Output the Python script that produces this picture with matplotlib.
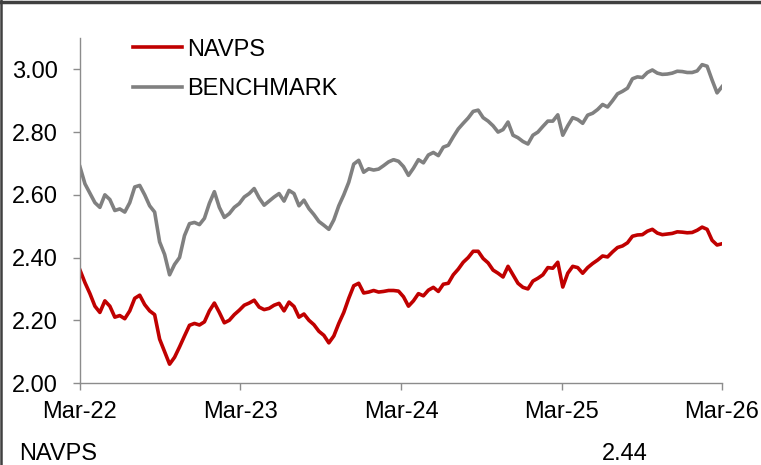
import matplotlib
matplotlib.use('Agg')
import matplotlib.pyplot as plt
import matplotlib.dates as mdates
import pandas as pd
from matplotlib.lines import Line2D

START_DATE = '2022-03-01'
END_DATE = '2026-03-01'

NAVPS = [
    2.360, 2.320, 2.285, 2.245, 2.225, 2.262, 2.245, 2.210, 2.215, 2.205,
    2.230, 2.270, 2.280, 2.250, 2.230, 2.218, 2.140, 2.100, 2.060, 2.082,
    2.115, 2.150, 2.184, 2.190, 2.185, 2.195, 2.230, 2.255, 2.225, 2.192,
    2.200, 2.218, 2.232, 2.248, 2.255, 2.264, 2.242, 2.234, 2.238, 2.248,
    2.254, 2.230, 2.258, 2.244, 2.210, 2.220, 2.200, 2.186, 2.165, 2.152,
    2.128, 2.150, 2.190, 2.225, 2.270, 2.310, 2.318, 2.287, 2.290, 2.295,
    2.290, 2.292, 2.295, 2.295, 2.293, 2.275, 2.245, 2.262, 2.285, 2.278,
    2.296, 2.305, 2.292, 2.315, 2.318, 2.345, 2.363, 2.385, 2.400, 2.420,
    2.420, 2.397, 2.383, 2.360, 2.350, 2.338, 2.372, 2.345, 2.318, 2.305,
    2.300, 2.325, 2.334, 2.345, 2.368, 2.366, 2.385, 2.306, 2.350, 2.372,
    2.368, 2.350, 2.368, 2.381, 2.392, 2.405, 2.402, 2.418, 2.432, 2.437,
    2.447, 2.468, 2.472, 2.473, 2.484, 2.490, 2.478, 2.473, 2.475, 2.477,
    2.482, 2.481, 2.479, 2.480, 2.487, 2.497, 2.490, 2.455, 2.440, 2.444,
]

BENCHMARK = [
    2.689, 2.635, 2.605, 2.575, 2.560, 2.600, 2.585, 2.550, 2.555, 2.545,
    2.575, 2.625, 2.630, 2.600, 2.565, 2.545, 2.450, 2.410, 2.345, 2.378,
    2.400, 2.470, 2.508, 2.512, 2.505, 2.525, 2.573, 2.610, 2.560, 2.528,
    2.540, 2.560, 2.572, 2.593, 2.604, 2.620, 2.590, 2.567, 2.580, 2.593,
    2.604, 2.580, 2.614, 2.604, 2.565, 2.583, 2.556, 2.537, 2.515, 2.503,
    2.490, 2.520, 2.565, 2.600, 2.640, 2.698, 2.710, 2.672, 2.683, 2.679,
    2.682, 2.693, 2.705, 2.712, 2.707, 2.690, 2.662, 2.685, 2.712, 2.702,
    2.727, 2.735, 2.725, 2.752, 2.758, 2.785, 2.810, 2.828, 2.845, 2.866,
    2.870, 2.846, 2.835, 2.820, 2.800, 2.808, 2.832, 2.790, 2.782, 2.770,
    2.762, 2.790, 2.800, 2.818, 2.835, 2.835, 2.855, 2.790, 2.820, 2.846,
    2.840, 2.828, 2.854, 2.860, 2.872, 2.888, 2.880, 2.900, 2.922, 2.930,
    2.940, 2.970, 2.976, 2.974, 2.990, 2.998, 2.988, 2.984, 2.985, 2.988,
    2.994, 2.993, 2.990, 2.990, 2.995, 3.015, 3.010, 2.966, 2.925, 2.945,
]

Y_TICKS = [2.00, 2.20, 2.40, 2.60, 2.80, 3.00]
X_TICKS = ['2022-03-01', '2023-03-01', '2024-03-01', '2025-03-01', '2026-03-01']
LAST_LABEL = 'NAVPS'
LAST_VALUE = 2.44

RED = '#C00000'
GREY = '#808080'
AXIS_GREY = '#8C8C8C'
FONT = 'Liberation Sans'
FONT_SIZE = 17


def main():
    plt.rcParams['font.family'] = [FONT, 'DejaVu Sans']
    dates = pd.date_range(START_DATE, END_DATE, periods=len(NAVPS))

    fig = plt.figure(figsize=(7.61, 4.65), dpi=100)
    ax = fig.add_axes([0.1051, 0.1763, 0.8437, 0.742])

    ax.plot(dates, NAVPS, color=RED, lw=2.6, solid_joinstyle='round')
    ax.plot(dates, BENCHMARK, color=GREY, lw=2.6, solid_joinstyle='round')

    ax.set_ylim(2.0, 3.1)
    ax.set_xlim(pd.Timestamp(START_DATE), pd.Timestamp(END_DATE))
    ax.set_yticks(Y_TICKS)
    ax.set_yticklabels([f'{v:.2f}' for v in Y_TICKS])
    ax.set_xticks(pd.to_datetime(X_TICKS))
    ax.xaxis.set_major_formatter(mdates.DateFormatter('%b-%y'))

    for side in ['top', 'right']:
        ax.spines[side].set_visible(False)
    for side in ['left', 'bottom']:
        ax.spines[side].set_color(AXIS_GREY)
        ax.spines[side].set_linewidth(1.0)
    ax.tick_params(axis='both', direction='out', length=5, width=1.0,
                   color=AXIS_GREY, labelsize=FONT_SIZE, labelcolor='black')
    ax.tick_params(axis='x', pad=8)
    ax.tick_params(axis='y', pad=11)

    handles = [Line2D([], [], color=RED, lw=2.6), Line2D([], [], color=GREY, lw=2.6)]
    ax.legend(handles, ['NAVPS', 'BENCHMARK'], loc='upper left',
              bbox_to_anchor=(0.05, 1.06), frameon=False, fontsize=FONT_SIZE,
              handlelength=2.07, handletextpad=0.21, labelspacing=0.75)

    fig.text(0.025, 0.0, LAST_LABEL, fontsize=FONT_SIZE, ha='left', va='bottom')
    fig.text(0.791, 0.0, f'{LAST_VALUE:.2f}', fontsize=FONT_SIZE, ha='left', va='bottom')

    # dark frame along top and left edge
    fig.add_artist(Line2D([0, 1], [0.9965, 0.9965], color='#404040', lw=2.5,
                          transform=fig.transFigure))
    fig.add_artist(Line2D([0.0015, 0.0015], [0, 1], color='#404040', lw=1.8,
                          transform=fig.transFigure))

    fig.savefig('out.png', dpi=100)


if __name__ == "__main__":
    main()
